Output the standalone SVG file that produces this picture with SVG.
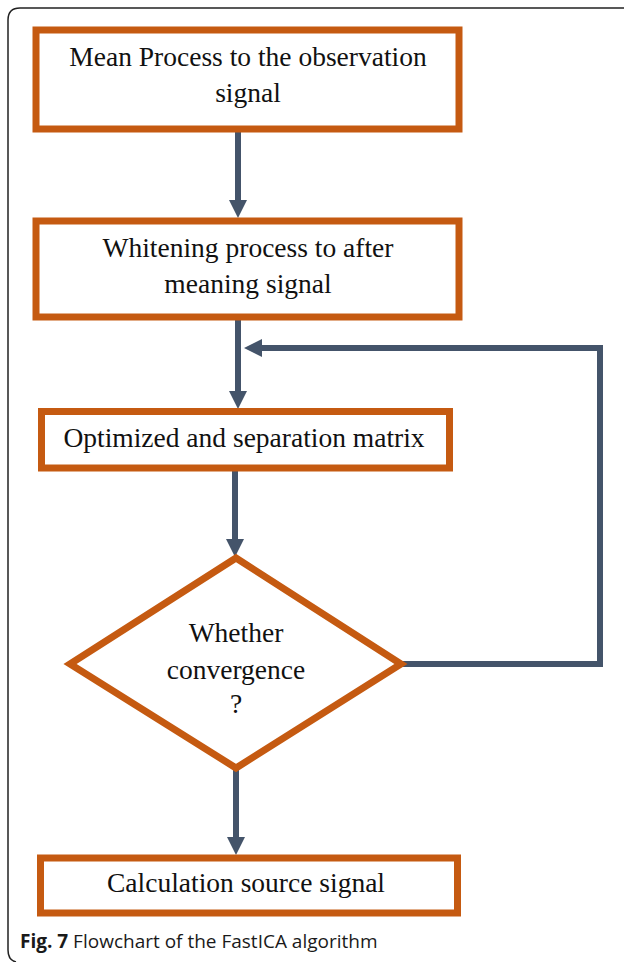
<svg xmlns="http://www.w3.org/2000/svg" width="625" height="962" viewBox="0 0 625 962">
  <style>
    .box { fill: #ffffff; stroke: #C55A11; stroke-width: 7; }
    .lbl { font-family: "Liberation Serif", "Times New Roman", serif; font-size: 27.5px; fill: #111111; text-anchor: middle; }
    .conn { fill: none; stroke: #44546A; stroke-width: 6; stroke-linejoin: miter; }
    .cap { font-family: "Open Sans", "Noto Sans", sans-serif; font-size: 19px; fill: #1a1a1a; }
  </style>
  <defs>
    <marker id="arr" markerUnits="userSpaceOnUse" markerWidth="20" markerHeight="20" refX="0" refY="9" orient="auto">
      <path d="M0,0 L18,9 L0,18 z" fill="#44546A"/>
    </marker>
  </defs>
  <rect width="625" height="962" fill="#ffffff"/>
  <path d="M624,8 L20,8 Q8,8 8,20 L8,950 Q8,960 16,962" fill="none" stroke="#222222" stroke-width="1.5"/>

  <g id="connectors">
    <line class="conn" x1="238" y1="130" x2="238" y2="200" marker-end="url(#arr)"/>
    <line class="conn" x1="238" y1="318" x2="238" y2="391" marker-end="url(#arr)"/>
    <polyline class="conn" points="401,664 600,664 600,348 262,348" marker-end="url(#arr)"/>
    <line class="conn" x1="235" y1="471" x2="235" y2="539" marker-end="url(#arr)"/>
    <line class="conn" x1="236" y1="768" x2="236" y2="837" marker-end="url(#arr)"/>
  </g>

  <g id="n1">
    <rect class="box" x="36" y="30" width="423" height="99"/>
    <text class="lbl" x="248" y="66">Mean Process to the observation</text>
    <text class="lbl" x="248" y="102">signal</text>
  </g>
  <g id="n2">
    <rect class="box" x="36" y="221" width="423" height="96"/>
    <text class="lbl" x="248" y="257">Whitening process to after</text>
    <text class="lbl" x="248" y="293">meaning signal</text>
  </g>
  <g id="n3">
    <rect class="box" x="41.5" y="411.5" width="408" height="56.5"/>
    <text class="lbl" x="244" y="447">Optimized and separation matrix</text>
  </g>
  <g id="n4">
    <polygon class="box" stroke-width="6" points="236,558 401,664 236,768 70,664"/>
    <text class="lbl" x="236" y="642">Whether</text>
    <text class="lbl" x="236" y="679">convergence</text>
    <text class="lbl" x="236" y="713">?</text>
  </g>
  <g id="n5">
    <rect class="box" x="40.5" y="858" width="417" height="55"/>
    <text class="lbl" x="246" y="892">Calculation source signal</text>
  </g>

  <text class="cap" x="20" y="948"><tspan font-weight="bold">Fig. 7</tspan> Flowchart of the FastICA algorithm</text>
</svg>
